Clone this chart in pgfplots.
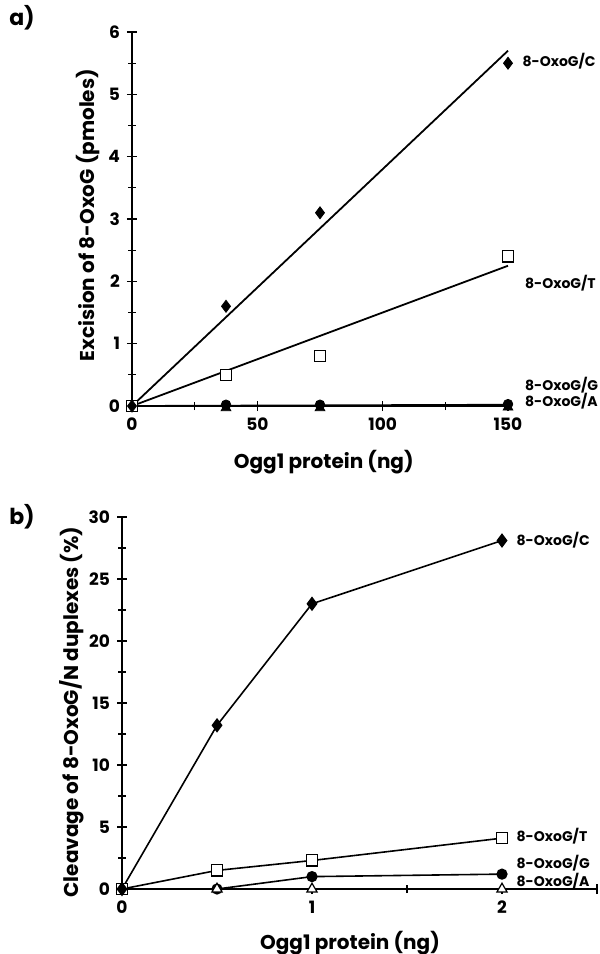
\documentclass[border=0pt]{standalone}
\usepackage{fontspec}
\setmainfont{Poppins}
\usepackage{pgfplots}
\pgfplotsset{compat=1.18}

\pgfplotsset{
  panel/.style={
    scale only axis,
    axis lines=left,
    axis line style={-, line width=0.7pt},
    tick align=center,
    major tick length=5pt,
    minor tick length=4pt,
    every tick/.style={black, line width=0.6pt},
    xmin=0, ymin=0,
    minor x tick num=1,
    minor y tick num=1,
    clip=false,
    /pgf/number format/assume math mode=true,
    tick label style={font=\bfseries\fontsize{8.5}{10}\selectfont},
    label style={font=\bfseries\fontsize{10}{12}\selectfont},
  },
  fit/.style={black, line width=0.9pt, no marks},
  openmark/.style={mark options={fill=white, draw=black, line width=0.6pt}},
}
\newcommand{\slab}{\bfseries\fontsize{7}{8}\selectfont}

\begin{document}
\begin{tikzpicture}
\path[use as bounding box] (0,0) rectangle (300pt,-477pt);
\node[font=\bfseries\fontsize{11}{12}\selectfont] at (11pt,-9pt) {a)};
\node[font=\bfseries\fontsize{11}{12}\selectfont] at (11pt,-258.5pt) {b)};

% panel a
\begin{axis}[panel,
  at={(66pt,-203pt)}, anchor=south west,
  width=188pt, height=187pt,
  xmax=150, ymax=6,
  xtick={0,50,100,150}, ytick={0,1,...,6},
  xlabel={Ogg1 protein (ng)},
  ylabel={Excision of 8-OxoG (pmoles)},
  xlabel style={at={(axis description cs:0.51,-0.15)}, anchor=center},
  ylabel style={at={(axis description cs:-0.117,0.51)}, anchor=center},
]
\addplot[fit] coordinates {(0,0) (150,5.7)};
\addplot[fit] coordinates {(0,0) (150,2.25)};
\addplot[fit] coordinates {(0,0) (150,0.02)};
\addplot[only marks, mark=*, mark size=2.4pt, black] coordinates {(0,0) (37.5,0.02) (75,0.02) (150,0.03)};
\addplot[only marks, mark=triangle*, mark size=2.8pt, black] coordinates {(0,0) (37.5,-0.03) (75,-0.03) (150,-0.02)};
\addplot[only marks, mark=square*, mark size=2.8pt, openmark] coordinates {(0,0) (37.5,0.5) (75,0.8) (150,2.4)};
\addplot[only marks, mark=diamond*, mark size=3pt, black] coordinates {(0,0) (37.5,1.6) (75,3.1) (150,5.5)};
\node[anchor=west, font=\slab] at (axis cs:153,5.53) {8-OxoG/C};
\node[anchor=west, font=\slab] at (axis cs:154,1.97) {8-OxoG/T};
\node[anchor=west, font=\slab] at (axis cs:154,0.34) {8-OxoG/G};
\node[anchor=west, font=\slab] at (axis cs:154,0.07) {8-OxoG/A};
\end{axis}

% panel b
\begin{axis}[panel,
  at={(61pt,-444.5pt)}, anchor=south west,
  width=237.5pt, height=186pt,
  xmax=2.5, ymax=30,
  xtick={0,1,2}, ytick={0,5,...,30},
  extra x ticks={2.5}, extra x tick labels={},
  xlabel={Ogg1 protein (ng)},
  ylabel={Cleavage of 8-OxoG/N duplexes (\%)},
  xlabel style={at={(axis description cs:0.48,-0.145)}, anchor=center},
  ylabel style={at={(axis description cs:-0.105,0.476)}, anchor=center},
]
\addplot[black, line width=0.8pt, mark=*, mark size=2.4pt] coordinates {(0,0) (0.5,0) (1,1.0) (2,1.2)};
\addplot[black, line width=0.8pt, mark=triangle*, mark size=2.9pt, openmark] coordinates {(0,0) (0.5,0) (1,0) (2,0)};
\addplot[black, line width=0.8pt, mark=square*, mark size=2.8pt, openmark] coordinates {(0,0) (0.5,1.5) (1,2.3) (2,4.1)};
\addplot[black, line width=0.8pt, mark=diamond*, mark size=3pt] coordinates {(0,0) (0.5,13.2) (1,23.0) (2,28.1)};
\node[anchor=west, font=\slab] at (axis cs:2.04,28.1) {8-OxoG/C};
\node[anchor=west, font=\slab] at (axis cs:2.04,4.3) {8-OxoG/T};
\node[anchor=west, font=\slab] at (axis cs:2.04,2.1) {8-OxoG/G};
\node[anchor=west, font=\slab] at (axis cs:2.04,0.6) {8-OxoG/A};
\end{axis}
\end{tikzpicture}
\end{document}
